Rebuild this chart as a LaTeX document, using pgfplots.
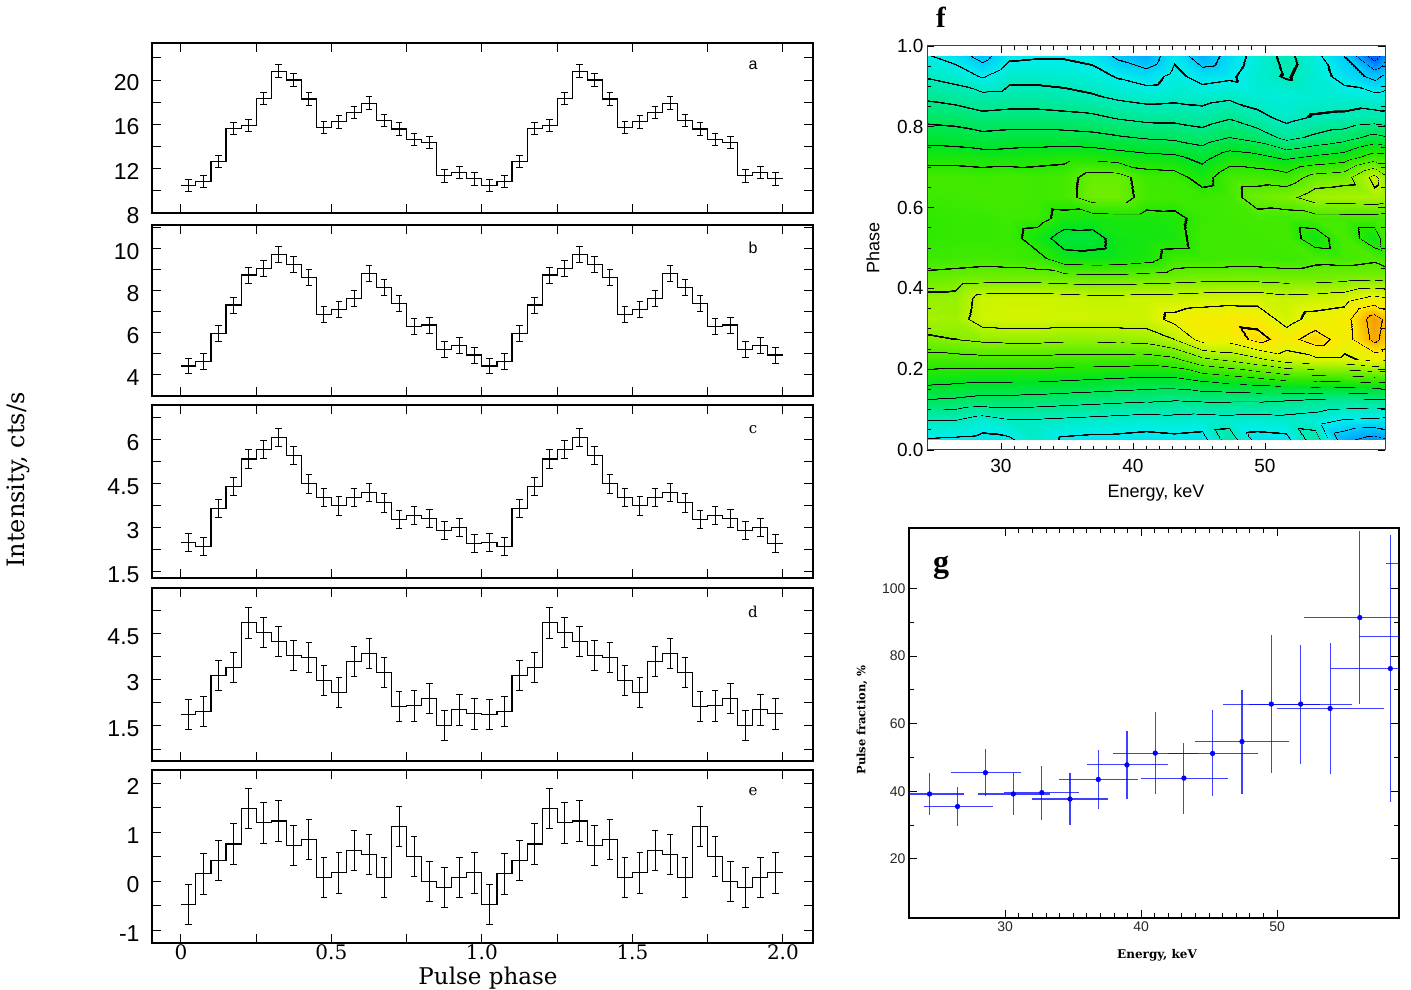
\documentclass[border=0pt]{standalone}
\usepackage{pgfplots}
\pgfplotsset{compat=1.18}
\usepackage{pgfplotstable}
\usepackage{fontspec}
\setmainfont{Liberation Serif}
\newfontfamily\lsans{Liberation Sans}
\newfontfamily\dserif{DejaVu Serif}
\newfontfamily\lserif{Liberation Serif}
\newcommand{\fs}[1]{\fontsize{#1}{#1}\selectfont}

\pgfplotstableread{
xl x a b c d e
0.00 0.025 10.42 4.40 2.48 1.87 -0.47
0.05 0.075 10.80 4.60 2.34 1.96 0.15
0.10 0.125 12.60 5.95 3.64 3.14 0.42
0.15 0.175 15.60 7.30 4.39 3.41 0.76
0.20 0.225 15.85 8.73 5.33 4.85 1.48
0.25 0.275 18.33 9.05 5.66 4.54 1.19
0.30 0.325 20.80 9.71 6.06 4.26 1.23
0.35 0.375 20.00 9.21 5.45 3.78 0.73
0.40 0.425 18.27 8.60 4.48 3.73 0.86
0.45 0.475 15.70 6.83 4.01 2.98 0.08
0.50 0.525 16.20 7.10 3.73 2.60 0.17
0.55 0.575 17.06 7.62 4.02 3.59 0.63
0.60 0.625 17.90 8.81 4.20 3.85 0.54
0.65 0.675 16.33 8.13 3.83 3.25 0.07
0.70 0.725 15.55 7.38 3.28 2.12 1.12
0.75 0.775 14.60 6.27 3.39 2.15 0.50
0.80 0.825 14.36 6.35 3.31 2.40 0.00
0.85 0.875 11.30 5.19 2.89 1.52 -0.13
0.90 0.925 11.64 5.38 2.99 2.02 0.08
0.95 0.975 11.03 4.92 2.45 1.89 0.17
1.00 1.025 10.42 4.40 2.48 1.87 -0.47
1.05 1.075 10.80 4.60 2.34 1.96 0.15
1.10 1.125 12.60 5.95 3.64 3.14 0.42
1.15 1.175 15.60 7.30 4.39 3.41 0.76
1.20 1.225 15.85 8.73 5.33 4.85 1.48
1.25 1.275 18.33 9.05 5.66 4.54 1.19
1.30 1.325 20.80 9.71 6.06 4.26 1.23
1.35 1.375 20.00 9.21 5.45 3.78 0.73
1.40 1.425 18.27 8.60 4.48 3.73 0.86
1.45 1.475 15.70 6.83 4.01 2.98 0.08
1.50 1.525 16.20 7.10 3.73 2.60 0.17
1.55 1.575 17.06 7.62 4.02 3.59 0.63
1.60 1.625 17.90 8.81 4.20 3.85 0.54
1.65 1.675 16.33 8.13 3.83 3.25 0.07
1.70 1.725 15.55 7.38 3.28 2.12 1.12
1.75 1.775 14.60 6.27 3.39 2.15 0.50
1.80 1.825 14.36 6.35 3.31 2.40 0.00
1.85 1.875 11.30 5.19 2.89 1.52 -0.13
1.90 1.925 11.64 5.38 2.99 2.02 0.08
1.95 1.975 11.03 4.92 2.45 1.89 0.17
2.00 nan 11.03 4.92 2.45 1.89 0.17
}\prof

\pgfplotstableread{
x y exm exp ey
24.44 39.2 2.5 2.56 6.2
26.5 35.5 2.5 2.6 5.8
28.55 45.5 2.55 2.65 7.0
30.6 39.2 2.6 2.7 6.2
32.7 39.6 2.8 2.75 8.0
34.77 37.7 2.77 2.83 7.8
36.85 43.5 2.9 2.95 8.6
38.96 47.8 2.96 3.04 10.0
41.04 51.3 3.08 3.11 12.1
43.15 43.9 3.16 3.25 10.5
45.26 51.2 3.3 3.34 12.7
47.42 54.7 3.45 3.45 15.4
49.58 65.8 3.58 3.58 20.5
51.74 65.8 3.77 3.76 17.6
53.9 64.5 3.9 3.95 19.5
56.09 91.4 4.09 4.2 25.5
58.33 76.3 4.35 4.4 39.5
60.6 85.8 4.6 4.6 30
62.9 107.5 4.9 4.9 30
}\pfrac

\pgfplotstableread{
E P V
24.4 0.025 2.9
26.5 0.025 2.8
28.6 0.025 2.7
30.6 0.025 2.8
32.7 0.025 3.7
34.8 0.025 2.8
36.9 0.025 2.7
38.9 0.025 2.7
41.0 0.025 2.6
43.1 0.025 2.7
45.2 0.025 2.6
47.3 0.025 4.6
49.4 0.025 2.6
51.6 0.025 2.7
53.8 0.025 4.6
56.0 0.025 1.2
58.3 0.025 0.5
59.1 0.025 0.8
24.4 0.075 4.0
26.5 0.075 4.0
28.6 0.075 3.5
30.6 0.075 3.9
32.7 0.075 3.9
34.8 0.075 3.8
36.9 0.075 3.7
38.9 0.075 3.6
41.0 0.075 3.5
43.1 0.075 3.6
45.2 0.075 3.5
47.3 0.075 3.6
49.4 0.075 3.5
51.6 0.075 3.6
53.8 0.075 3.4
56.0 0.075 2.9
58.3 0.075 2.8
59.1 0.075 2.7
24.4 0.125 6.0
26.5 0.125 5.9
28.6 0.125 5.7
30.6 0.125 5.7
32.7 0.125 5.6
34.8 0.125 5.5
36.9 0.125 5.4
38.9 0.125 5.3
41.0 0.125 5.2
43.1 0.125 5.1
45.2 0.125 5.2
47.3 0.125 5.2
49.4 0.125 5.2
51.6 0.125 5.1
53.8 0.125 5.0
56.0 0.125 4.9
58.3 0.125 5.0
59.1 0.125 5.0
24.4 0.175 7.4
26.5 0.175 7.3
28.6 0.175 7.2
30.6 0.175 7.2
32.7 0.175 7.2
34.8 0.175 7.1
36.9 0.175 7.0
38.9 0.175 6.9
41.0 0.175 6.8
43.1 0.175 6.8
45.2 0.175 7.2
47.3 0.175 7.5
49.4 0.175 7.8
51.6 0.175 8.2
53.8 0.175 8.3
56.0 0.175 8.4
58.3 0.175 8.6
59.1 0.175 8.5
24.4 0.225 8.6
26.5 0.225 8.6
28.6 0.225 8.7
30.6 0.225 8.7
32.7 0.225 8.7
34.8 0.225 8.6
36.9 0.225 8.6
38.9 0.225 8.6
41.0 0.225 8.5
43.1 0.225 8.8
45.2 0.225 9.8
47.3 0.225 10.2
49.4 0.225 10.8
51.6 0.225 11.5
53.8 0.225 11.8
56.0 0.225 11.8
58.3 0.225 12.3
59.1 0.225 12.2
24.4 0.275 9.8
26.5 0.275 10.0
28.6 0.275 10.2
30.6 0.275 10.3
32.7 0.275 10.3
34.8 0.275 10.2
36.9 0.275 10.2
38.9 0.275 10.3
41.0 0.275 10.4
43.1 0.275 11.0
45.2 0.275 12.4
47.3 0.275 12.4
49.4 0.275 13.3
51.6 0.275 12.6
53.8 0.275 13.5
56.0 0.275 12.5
58.3 0.275 14.3
59.1 0.275 13.6
24.4 0.325 10.6
26.5 0.325 10.5
28.6 0.325 11.5
30.6 0.325 11.6
32.7 0.325 11.6
34.8 0.325 11.5
36.9 0.325 11.5
38.9 0.325 11.5
41.0 0.325 11.5
43.1 0.325 12.3
45.2 0.325 12.7
47.3 0.325 12.8
49.4 0.325 12.7
51.6 0.325 11.6
53.8 0.325 12.4
56.0 0.325 12.6
58.3 0.325 14.5
59.1 0.325 13.8
24.4 0.375 10.3
26.5 0.375 10.3
28.6 0.375 11.4
30.6 0.375 11.5
32.7 0.375 11.5
34.8 0.375 11.4
36.9 0.375 11.3
38.9 0.375 11.3
41.0 0.375 11.4
43.1 0.375 11.4
45.2 0.375 11.5
47.3 0.375 11.6
49.4 0.375 11.6
51.6 0.375 11.3
53.8 0.375 11.4
56.0 0.375 11.6
58.3 0.375 12.3
59.1 0.375 12.1
24.4 0.425 9.4
26.5 0.425 9.5
28.6 0.425 9.6
30.6 0.425 9.6
32.7 0.425 9.6
34.8 0.425 9.5
36.9 0.425 9.4
38.9 0.425 9.4
41.0 0.425 9.5
43.1 0.425 9.6
45.2 0.425 9.7
47.3 0.425 9.7
49.4 0.425 9.7
51.6 0.425 9.6
53.8 0.425 9.6
56.0 0.425 9.7
58.3 0.425 9.8
59.1 0.425 9.7
24.4 0.475 8.4
26.5 0.475 8.5
28.6 0.475 8.6
30.6 0.475 8.5
32.7 0.475 8.3
34.8 0.475 7.4
36.9 0.475 7.3
38.9 0.475 7.4
41.0 0.475 7.6
43.1 0.475 8.4
45.2 0.475 8.4
47.3 0.475 8.5
49.4 0.475 8.5
51.6 0.475 8.4
53.8 0.475 8.7
56.0 0.475 8.6
58.3 0.475 8.8
59.1 0.475 8.5
24.4 0.525 8.2
26.5 0.525 8.3
28.6 0.525 8.3
30.6 0.525 8.4
32.7 0.525 7.5
34.8 0.525 6.5
36.9 0.525 6.6
38.9 0.525 7.4
41.0 0.525 7.5
43.1 0.525 7.6
45.2 0.525 8.5
47.3 0.525 8.5
49.4 0.525 8.5
51.6 0.525 8.6
53.8 0.525 7.4
56.0 0.525 8.7
58.3 0.525 7.3
59.1 0.525 8.6
24.4 0.575 8.2
26.5 0.575 8.3
28.6 0.575 8.3
30.6 0.575 8.5
32.7 0.575 8.4
34.8 0.575 7.6
36.9 0.575 7.5
38.9 0.575 7.6
41.0 0.575 7.6
43.1 0.575 7.7
45.2 0.575 8.4
47.3 0.575 8.5
49.4 0.575 8.6
51.6 0.575 8.5
53.8 0.575 8.6
56.0 0.575 8.6
58.3 0.575 8.6
59.1 0.575 8.5
24.4 0.625 8.4
26.5 0.625 8.5
28.6 0.625 8.6
30.6 0.625 8.6
32.7 0.625 8.5
34.8 0.625 8.6
36.9 0.625 9.5
38.9 0.625 9.5
41.0 0.625 8.6
43.1 0.625 8.5
45.2 0.625 8.4
47.3 0.625 8.6
49.4 0.625 9.5
51.6 0.625 9.7
53.8 0.625 10.5
56.0 0.625 10.6
58.3 0.625 10.7
59.1 0.625 10.5
24.4 0.675 8.6
26.5 0.675 8.6
28.6 0.675 8.5
30.6 0.675 8.6
32.7 0.675 8.5
34.8 0.675 8.6
36.9 0.675 9.4
38.9 0.675 9.4
41.0 0.675 8.5
43.1 0.675 8.4
45.2 0.675 7.6
47.3 0.675 8.6
49.4 0.675 8.6
51.6 0.675 8.4
53.8 0.675 9.4
56.0 0.675 9.6
58.3 0.675 11.3
59.1 0.675 10.3
24.4 0.725 7.6
26.5 0.725 7.6
28.6 0.725 7.5
30.6 0.725 7.5
32.7 0.725 7.6
34.8 0.725 7.7
36.9 0.725 7.7
38.9 0.725 7.5
41.0 0.725 7.3
43.1 0.725 7.2
45.2 0.725 6.7
47.3 0.725 7.5
49.4 0.725 7.3
51.6 0.725 6.8
53.8 0.725 7.2
56.0 0.725 7.5
58.3 0.725 8.5
59.1 0.725 8.4
24.4 0.775 6.6
26.5 0.775 6.5
28.6 0.775 6.3
30.6 0.775 6.4
32.7 0.775 6.4
34.8 0.775 6.4
36.9 0.775 6.3
38.9 0.775 6.1
41.0 0.775 5.9
43.1 0.775 5.8
45.2 0.775 5.5
47.3 0.775 6.0
49.4 0.775 5.6
51.6 0.775 4.7
53.8 0.775 5.2
56.0 0.775 5.6
58.3 0.775 6.3
59.1 0.775 6.1
24.4 0.825 5.7
26.5 0.825 5.6
28.6 0.825 5.3
30.6 0.825 5.4
32.7 0.825 5.4
34.8 0.825 5.3
36.9 0.825 5.2
38.9 0.825 4.9
41.0 0.825 4.7
43.1 0.825 4.7
45.2 0.825 4.5
47.3 0.825 4.9
49.4 0.825 4.3
51.6 0.825 3.7
53.8 0.825 4.1
56.0 0.825 4.2
58.3 0.825 4.4
59.1 0.825 4.3
24.4 0.875 4.8
26.5 0.875 4.6
28.6 0.875 4.3
30.6 0.875 4.4
32.7 0.875 4.4
34.8 0.875 4.3
36.9 0.875 4.1
38.9 0.875 3.8
41.0 0.875 3.6
43.1 0.875 3.7
45.2 0.875 3.6
47.3 0.875 3.8
49.4 0.875 3.5
51.6 0.875 3.4
53.8 0.875 3.5
56.0 0.875 3.5
58.3 0.875 3.3
59.1 0.875 3.4
24.4 0.925 3.9
26.5 0.925 3.6
28.6 0.925 2.9
30.6 0.925 3.7
32.7 0.925 3.7
34.8 0.925 3.6
36.9 0.925 3.4
38.9 0.925 2.9
41.0 0.925 2.5
43.1 0.925 3.3
45.2 0.925 2.6
47.3 0.925 2.8
49.4 0.925 3.6
51.6 0.925 4.1
53.8 0.925 3.5
56.0 0.925 2.6
58.3 0.925 1.7
59.1 0.925 2.2
24.4 0.975 3.1
26.5 0.975 2.6
28.6 0.975 1.6
30.6 0.975 2.8
32.7 0.975 2.9
34.8 0.975 2.9
36.9 0.975 2.7
38.9 0.975 1.8
41.0 0.975 1.2
43.1 0.975 2.8
45.2 0.975 1.3
47.3 0.975 2.4
49.4 0.975 3.4
51.6 0.975 4.3
53.8 0.975 3.3
56.0 0.975 2.0
58.3 0.975 -0.5
59.1 0.975 0.6
}\fdata

\pgfplotsset{
  prof/.style={
    scale only axis, width=661pt, anchor=south west,
    xmin=-0.096, xmax=2.1,
    xtick={0,0.5,1,1.5,2}, minor xtick={0.25,0.75,1.25,1.75},
    xticklabels={},
    tick align=inside, xtick pos=both, ytick pos=both,
    major tick length=9pt, minor tick length=9pt,
    tick style={black, line width=0.9pt},
    axis line style={black, line width=1.6pt},
    yticklabel style={font=\lsans\fs{23}, xshift=-9pt, yshift=-3pt},
    /pgf/number format/assume math mode=true,
  },
  stepline/.style={black, line width=1.1pt, const plot mark left, mark=none},
  errb/.style={black, only marks, mark=*, mark size=0.01pt,
    mark options={draw opacity=0, fill opacity=0}, line width=0.9pt,
    error bars/.cd, y dir=both, y fixed=#1,
    error mark options={rotate=90, mark size=3.3pt, line width=0.9pt, draw opacity=1},
    error bar style={line width=0.9pt, draw opacity=1}},
}

\begin{document}
\begin{tikzpicture}[x=1pt, y=1pt]
\useasboundingbox (0,0) rectangle (1411,989);

% panel a
\begin{axis}[prof, at={(152pt,776pt)}, height=170pt, ymin=7.94, ymax=23.35,
  ytick={8,12,16,20}, yticklabels={8,12,16,20}, minor ytick={10,14,18,22}]
\addplot[stepline] table[x=xl, y=a] {\prof};
\addplot[errb=0.56] table[x=x, y=a] {\prof};
\end{axis}
% panel b
\begin{axis}[prof, at={(152pt,593pt)}, height=171pt, ymin=2.97, ymax=11.11,
  ytick={4,6,8,10}, yticklabels={4,6,8,10}, minor ytick={5,7,9,11}]
\addplot[stepline] table[x=xl, y=b] {\prof};
\addplot[errb=0.38] table[x=x, y=b] {\prof};
\end{axis}
% panel c
\begin{axis}[prof, at={(152pt,411pt)}, height=173pt, ymin=1.27, ymax=7.17,
  ytick={1.5,3,4.5,6}, yticklabels={1.5,3,4.5,6}, minor ytick={2.25,3.75,5.25,6.75}]
\addplot[stepline] table[x=xl, y=c] {\prof};
\addplot[errb=0.31] table[x=x, y=c] {\prof};
\end{axis}
% panel d
\begin{axis}[prof, at={(152pt,228pt)}, height=173pt, ymin=0.36, ymax=5.985,
  ytick={1.5,3,4.5}, yticklabels={1.5,3,4.5}, minor ytick={0.75,2.25,3.75,5.25}]
\addplot[stepline] table[x=xl, y=d] {\prof};
\addplot[errb=0.49] table[x=x, y=d] {\prof};
\end{axis}
% panel e
\begin{axis}[prof, at={(152pt,46pt)}, height=173pt, ymin=-1.26, ymax=2.27,
  ytick={-1,0,1,2}, yticklabels={-1,0,1,2}, minor ytick={-0.5,0.5,1.5},
  xticklabels={0,0.5,1.0,1.5,2.0}, xticklabel style={font=\dserif\fs{20}, yshift=2pt}]
\addplot[stepline] table[x=xl, y=e] {\prof};
\addplot[errb=0.41] table[x=x, y=e] {\prof};
\end{axis}

\node[rotate=90, font=\dserif\fs{24}] at (18,509) {Intensity, cts/s};
\node[font=\dserif\fs{23}] at (488,11) {Pulse phase};
\node[font=\lsans\fs{16}] at (753,924) {a};
\node[font=\lsans\fs{16}] at (753,741) {b};
\node[font=\dserif\fs{15}] at (753,559) {c};
\node[font=\dserif\fs{15}] at (753,377) {d};
\node[font=\dserif\fs{15}] at (753,197) {e};

% panel f
\begin{axis}[at={(927pt,539pt)}, anchor=south west, scale only axis,
  width=458pt, height=404pt,
  xmin=24.4, xmax=59.1, ymin=0, ymax=1, axis on top,
  xtick={30,40,50}, xticklabels={30,40,50}, minor x tick num=9,
  ytick={0,0.2,0.4,0.6,0.8,1}, yticklabels={0.0,0.2,0.4,0.6,0.8,1.0},
  minor y tick num=3,
  tick align=inside, xtick pos=both, ytick pos=both,
  major tick length=7pt, minor tick length=4pt,
  tick style={black, line width=0.7pt},
  axis line style={black!75, line width=1pt},
  ticklabel style={font=\lsans\fs{19}},
  xticklabel style={yshift=-6pt},
  /pgf/number format/assume math mode=true,
  colormap={contmap}{
    rgb255(0cm)=(0,40,200)
    rgb255(0.96cm)=(0,70,230) rgb255(0.97cm)=(0,0,0) rgb255(1.03cm)=(0,0,0) rgb255(1.04cm)=(0,70,230)
    rgb255(1.96cm)=(0,110,255) rgb255(1.97cm)=(0,0,0) rgb255(2.03cm)=(0,0,0) rgb255(2.04cm)=(0,110,255)
    rgb255(2.96cm)=(0,165,255) rgb255(2.97cm)=(0,0,0) rgb255(3.03cm)=(0,0,0) rgb255(3.04cm)=(0,165,255)
    rgb255(3.96cm)=(0,205,250) rgb255(3.97cm)=(0,0,0) rgb255(4.03cm)=(0,0,0) rgb255(4.04cm)=(0,205,250)
    rgb255(4.96cm)=(0,238,235) rgb255(4.97cm)=(0,0,0) rgb255(5.03cm)=(0,0,0) rgb255(5.04cm)=(0,238,235)
    rgb255(5.96cm)=(0,235,190) rgb255(5.97cm)=(0,0,0) rgb255(6.03cm)=(0,0,0) rgb255(6.04cm)=(0,235,190)
    rgb255(6.96cm)=(0,232,140) rgb255(6.97cm)=(0,0,0) rgb255(7.03cm)=(0,0,0) rgb255(7.04cm)=(0,232,140)
    rgb255(7.96cm)=(0,230,85) rgb255(7.97cm)=(0,0,0) rgb255(8.03cm)=(0,0,0) rgb255(8.04cm)=(0,230,85)
    rgb255(8.96cm)=(0,228,35) rgb255(8.97cm)=(0,0,0) rgb255(9.03cm)=(0,0,0) rgb255(9.04cm)=(0,228,35)
    rgb255(9.96cm)=(40,232,0) rgb255(9.97cm)=(0,0,0) rgb255(10.03cm)=(0,0,0) rgb255(10.04cm)=(40,232,0)
    rgb255(10.96cm)=(85,236,0) rgb255(10.97cm)=(0,0,0) rgb255(11.03cm)=(0,0,0) rgb255(11.04cm)=(85,236,0)
    rgb255(11.96cm)=(135,240,0) rgb255(11.97cm)=(0,0,0) rgb255(12.03cm)=(0,0,0) rgb255(12.04cm)=(135,240,0)
    rgb255(12.96cm)=(185,243,0) rgb255(12.97cm)=(0,0,0) rgb255(13.03cm)=(0,0,0) rgb255(13.04cm)=(185,243,0)
    rgb255(13.96cm)=(228,245,0) rgb255(13.97cm)=(0,0,0) rgb255(14.03cm)=(0,0,0) rgb255(14.04cm)=(228,245,0)
    rgb255(14.96cm)=(255,232,0) rgb255(14.97cm)=(0,0,0) rgb255(15.03cm)=(0,0,0) rgb255(15.04cm)=(255,232,0)
    rgb255(15.96cm)=(250,180,0) rgb255(15.97cm)=(0,0,0) rgb255(16.03cm)=(0,0,0) rgb255(16.04cm)=(250,180,0)
    rgb255(16.96cm)=(240,130,20) rgb255(16.97cm)=(0,0,0) rgb255(17.03cm)=(0,0,0) rgb255(17.04cm)=(240,130,20)
    rgb255(18cm)=(230,100,30)
  },
  point meta min=-2, point meta max=16]
\addplot[surf, shader=interp, mesh/cols=18, point meta=explicit]
  table[x=E, y=P, meta=V] {\fdata};
\end{axis}
\node[anchor=base, font=\lserif\bfseries\fs{29}] at (941,961) {f};
\node[rotate=90, font=\lsans\fs{18}] at (873,741) {Phase};
\node[font=\lsans\fs{18}] at (1156,496) {Energy, keV};

% panel g
\begin{axis}[at={(909pt,71pt)}, anchor=south west, scale only axis,
  width=490pt, height=390pt,
  xmin=22.93, xmax=58.97, ymin=2.5, ymax=117.9,
  xtick={30,40,50}, xticklabels={30,40,50}, minor x tick num=9,
  ytick={20,40,60,80,100}, yticklabels={20,40,60,80,100}, minor y tick num=1,
  tick align=inside, xtick pos=both, ytick pos=both,
  major tick length=8pt, minor tick length=5pt,
  tick style={black, line width=0.8pt},
  axis line style={black, line width=1.4pt},
  ticklabel style={font=\lsans\fs{14}, black!85},
  /pgf/number format/assume math mode=true]
\addplot[blue, only marks, mark=*, mark size=2.4pt,
  error bars/.cd, x dir=both, x explicit, y dir=both, y explicit,
  error mark=none, error bar style={line width=1.1pt, blue, opacity=0.75}]
  table[x=x, y=y, x error plus=exp, x error minus=exm, y error=ey] {\pfrac};
\end{axis}
\node[anchor=base, font=\lserif\bfseries\fs{32}] at (941,416) {g};
\node[rotate=90, font=\dserif\bfseries\fs{11.5}] at (862,269) {Pulse fraction, \%};
\node[font=\dserif\bfseries\fs{12}] at (1157,34) {Energy, keV};

\end{tikzpicture}
\end{document}
